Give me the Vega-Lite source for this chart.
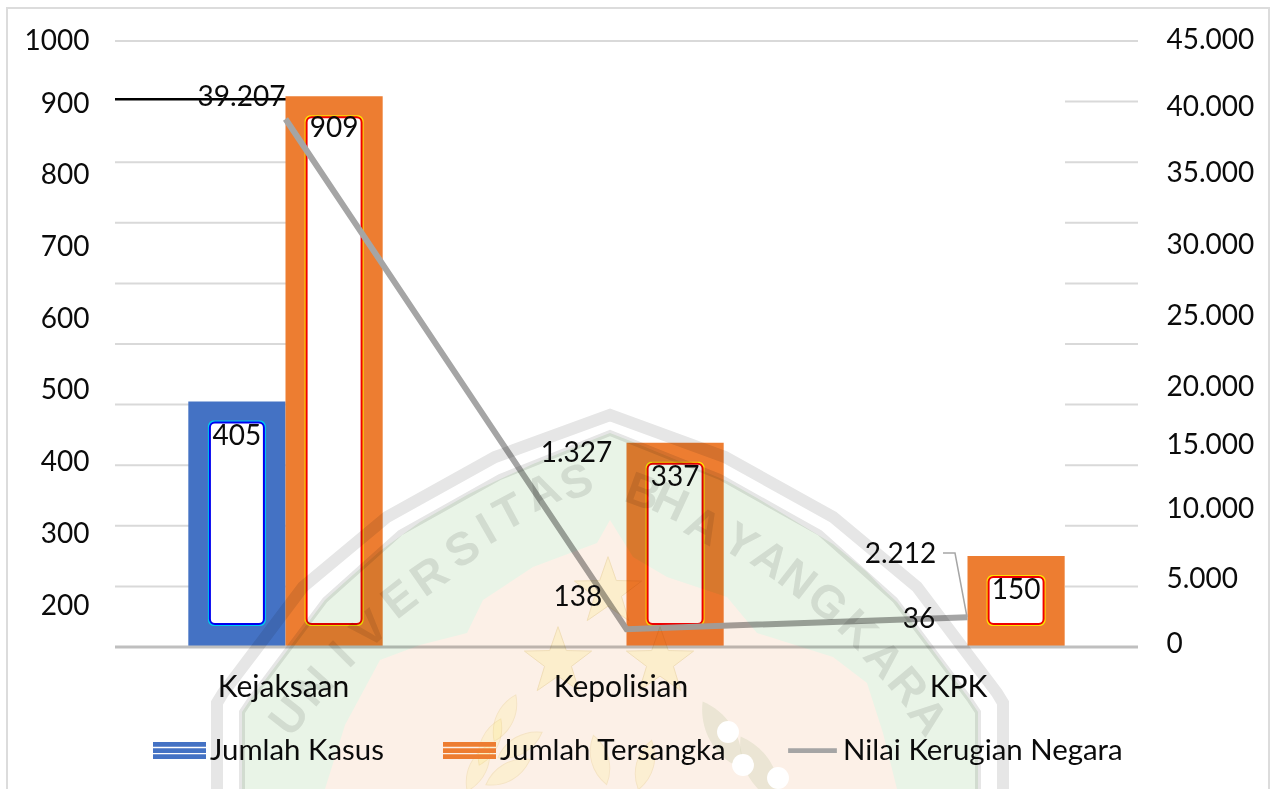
{
"$schema":"https://vega.github.io/schema/vega-lite/v6.json",
"width":1023,"height":606,"autosize":"none",
"padding":{"left":115,"top":41,"right":132,"bottom":142},
"background":"white",
"config":{"font":"Lato","view":{"stroke":null},"text":{"font":"Lato","fontSize":28,"color":"#0b0b0b"},
 "legend":{"title":null,"orient":"none","legendX":38,"legendY":683,"direction":"horizontal","columns":3,"padding":0,"symbolSize":2809,"symbolStrokeWidth":0,"symbolOpacity":1,"labelFontSize":29.4,"labelFont":"Lato","labelColor":"#0b0b0b","labelOffset":4,"labelLimit":0,"columnPadding":59}},
"datasets":{
"vals":[
{"cat":"Kejaksaan","series":"Jumlah Kasus","value":405},
{"cat":"Kejaksaan","series":"Jumlah Tersangka","value":909},
{"cat":"Kepolisian","series":"Jumlah Kasus","value":138},
{"cat":"Kepolisian","series":"Jumlah Tersangka","value":337},
{"cat":"KPK","series":"Jumlah Kasus","value":36},
{"cat":"KPK","series":"Jumlah Tersangka","value":150}],
"loss":[
{"cat":"Kejaksaan","series":"Nilai Kerugian Negara","value":39207},
{"cat":"Kepolisian","series":"Nilai Kerugian Negara","value":1327},
{"cat":"KPK","series":"Nilai Kerugian Negara","value":2212}],
"grid":[
{"value":1000,"from":115,"to":1138},
{"value":800,"from":115,"to":286},{"value":700,"from":115,"to":286},{"value":600,"from":115,"to":286},{"value":500,"from":115,"to":286},{"value":400,"from":115,"to":286},{"value":300,"from":115,"to":286},{"value":200,"from":115,"to":286},{"value":100,"from":115,"to":286},
{"value":900,"from":1065,"to":1138},{"value":800,"from":1065,"to":1138},{"value":700,"from":1065,"to":1138},{"value":600,"from":1065,"to":1138},{"value":500,"from":1065,"to":1138},{"value":400,"from":1065,"to":1138},{"value":300,"from":1065,"to":1138},{"value":200,"from":1065,"to":1138},{"value":100,"from":1065,"to":1138}],
"blackGrid":[{"value":904,"from":115,"to":286}],
"shield":[
{"u":242,"g":712,"p":789},{"u":250,"g":700,"p":789},{"u":325,"g":600,"p":789},{"u":345,"g":582,"p":725},{"u":380,"g":551,"p":660},{"u":420,"g":522,"p":645},{"u":467,"g":495,"p":633},{"u":483,"g":487,"p":600},{"u":533,"g":464,"p":567},{"u":597,"g":438,"p":543},{"u":610,"g":433,"p":520},{"u":633,"g":442,"p":557},{"u":667,"g":456,"p":577},{"u":727,"g":481,"p":597},{"u":757,"g":498,"p":633},{"u":833,"g":544,"p":657},{"u":867,"g":572,"p":683},{"u":883,"g":589,"p":733},{"u":897,"g":602,"p":789},{"u":970,"g":700,"p":789},{"u":978,"g":712,"p":789}],
"outer":[
{"o":1,"u":217,"v":795},{"o":2,"u":217,"v":703},{"o":3,"u":223,"v":693},{"o":4,"u":303,"v":587},{"o":5,"u":387,"v":517},{"o":6,"u":495,"v":457},{"o":7,"u":610,"v":415},{"o":8,"u":725,"v":457},{"o":9,"u":833,"v":517},{"o":10,"u":917,"v":587},{"o":11,"u":997,"v":693},{"o":12,"u":1003,"v":703},{"o":13,"u":1003,"v":795}],
"inner":[
{"o":1,"u":242,"v":795},{"o":2,"u":242,"v":712},{"o":3,"u":250,"v":700},{"o":4,"u":325,"v":600},{"o":5,"u":400,"v":533},{"o":6,"u":500,"v":477},{"o":7,"u":610,"v":433},{"o":8,"u":720,"v":477},{"o":9,"u":820,"v":533},{"o":10,"u":895,"v":600},{"o":11,"u":970,"v":700},{"o":12,"u":978,"v":712},{"o":13,"u":978,"v":795}],
"frame":[{"o":1,"u":7,"v":795},{"o":2,"u":7,"v":8},{"o":3,"u":1269,"v":8},{"o":4,"u":1269,"v":795}],
"leader":[{"o":1,"u":943,"v":553},{"o":2,"u":955,"v":553},{"o":3,"u":967,"v":617}],
"letters":[
{"t":"U","u":290,"v":717,"r":-52},{"t":"N","u":315,"v":687,"r":-48},{"t":"I","u":343,"v":655,"r":-45},{"t":"V","u":370,"v":630,"r":-42},{"t":"E","u":400,"v":600,"r":-38},{"t":"R","u":430,"v":577,"r":-35},{"t":"S","u":463,"v":550,"r":-32},{"t":"I","u":487,"v":530,"r":-30},{"t":"T","u":510,"v":513,"r":-28},{"t":"A","u":543,"v":493,"r":-25},{"t":"S","u":577,"v":483,"r":-20},
{"t":"B","u":643,"v":493,"r":20},{"t":"H","u":670,"v":503,"r":25},{"t":"A","u":703,"v":527,"r":28},{"t":"Y","u":740,"v":543,"r":32},{"t":"A","u":770,"v":560,"r":35},{"t":"N","u":797,"v":580,"r":38},{"t":"G","u":827,"v":603,"r":42},{"t":"K","u":857,"v":630,"r":45},{"t":"A","u":883,"v":660,"r":48},{"t":"R","u":907,"v":687,"r":50},{"t":"A","u":927,"v":717,"r":52}],
"stars":[{"u":608,"v":592},{"u":558,"v":662},{"u":660,"v":662}],
"leaves":[{"u":505,"v":718,"r":25},{"u":490,"v":742,"r":25},{"u":478,"v":768,"r":25},{"u":520,"v":745,"r":60},{"u":508,"v":772,"r":60},{"u":600,"v":760,"r":-15},{"u":645,"v":765,"r":15}],
"greenLeaves":[{"u":722,"v":735,"r":-30},{"u":760,"v":770,"r":-30}],
"cotton":[{"u":728,"v":732},{"u":743,"v":765},{"u":778,"v":778}],
"leftTicks":[{"tick":200},{"tick":900},{"tick":1000}],
"rightTicks":[{"tick":0},{"tick":45000}]
},
"resolve":{"scale":{"x":"independent","y":"independent","xOffset":"independent"},"axis":{"x":"independent","y":"independent"}},
"layer":[
{"encoding":{"x":{"field":"from","type":"quantitative","axis":null,"scale":{"domain":[115,1138],"nice":false,"zero":false}},"x2":{"field":"to"},"y":{"field":"value","type":"quantitative","axis":null,"scale":{"domain":[0,1000],"nice":false}}},
 "layer":[
  {"data":{"name":"grid"},"mark":{"type":"rule","stroke":"#d9d9d9","strokeWidth":2}},
  {"data":{"name":"blackGrid"},"mark":{"type":"rule","stroke":"#000000","strokeWidth":2.5}}
 ]},
{"data":{"name":"vals"},
 "transform":[{"filter":"datum.series=='Jumlah Tersangka'||datum.cat=='Kejaksaan'"}],
 "encoding":{
  "x":{"field":"cat","type":"nominal","axis":null,"sort":null,"scale":{"domain":["Kejaksaan","Kepolisian","KPK"],"paddingInner":0.43,"paddingOuter":0.215}},
  "xOffset":{"field":"series","type":"nominal","scale":{"domain":["Jumlah Kasus","Jumlah Tersangka"],"paddingInner":0,"paddingOuter":0}},
  "y":{"field":"value","type":"quantitative","axis":null,"stack":null,"scale":{"domain":[0,1000],"nice":false}}},
 "layer":[
  {"mark":{"type":"bar"},"encoding":{"color":{"field":"series","type":"nominal","scale":{"domain":["Jumlah Kasus","Jumlah Tersangka","Nilai Kerugian Negara"],"range":["#4472c4","#ed7d31","#a5a5a5"]}}}},
  {"transform":[{"filter":"datum.series=='Jumlah Kasus'"}],"mark":{"type":"bar","size":58,"yOffset":19,"y2Offset":-21,"fill":"#00c8f0","cornerRadius":6},"encoding":{"y2":{"datum":0}}},
  {"transform":[{"filter":"datum.series=='Jumlah Kasus'"}],"mark":{"type":"bar","size":54,"yOffset":21,"y2Offset":-23,"fill":"#ffffff","stroke":"#0000f0","strokeWidth":2,"cornerRadius":5},"encoding":{"y2":{"datum":0}}},
  {"transform":[{"filter":"datum.series=='Jumlah Tersangka'"}],"mark":{"type":"bar","size":59,"yOffset":19,"y2Offset":-21,"fill":"#ffe000","cornerRadius":6},"encoding":{"y2":{"datum":0}}},
  {"transform":[{"filter":"datum.series=='Jumlah Tersangka'"}],"mark":{"type":"bar","size":55,"yOffset":21,"y2Offset":-23,"fill":"#ffffff","stroke":"#f00000","strokeWidth":2,"cornerRadius":5},"encoding":{"y2":{"datum":0}}}
 ]},
{"data":{"name":"loss"},
 "mark":{"type":"line","strokeWidth":6},
 "encoding":{
  "x":{"field":"cat","type":"nominal","axis":null,"sort":null,"scale":{"domain":["Kejaksaan","Kepolisian","KPK"],"paddingInner":0.43,"paddingOuter":0.215}},
  "y":{"field":"value","type":"quantitative","axis":null,"scale":{"domain":[0,45000],"nice":false}},
  "color":{"field":"series","type":"nominal"}}},
{"encoding":{
  "x":{"field":"u","type":"quantitative","axis":null,"scale":{"domain":[115,1138],"nice":false,"zero":false}},
  "y":{"field":"v","type":"quantitative","axis":null,"scale":{"domain":[647,41],"nice":false,"zero":false}}},
 "layer":[
  {"data":{"values":[{"u":115,"v":647},{"u":1138,"v":647}]},"mark":{"type":"line","stroke":"#bfbfbf","strokeWidth":3}},
  {"data":{"name":"frame"},"mark":{"type":"line","stroke":"#dcdcdc","strokeWidth":2,"clip":false},"encoding":{"order":{"field":"o"}}},
  {"data":{"name":"leader"},"mark":{"type":"line","stroke":"#a6a6a6","strokeWidth":1.5},"encoding":{"order":{"field":"o"}}},
  {"data":{"name":"shield"},"mark":{"type":"area","fill":"#e9f4e7","blend":"multiply"},"encoding":{"y":{"field":"g","type":"quantitative"},"y2":{"field":"p"}}},
  {"data":{"name":"shield"},"mark":{"type":"area","fill":"#fcf0e7","blend":"multiply"},"encoding":{"y":{"field":"p","type":"quantitative"},"y2":{"datum":800}}},
  {"data":{"name":"outer"},"mark":{"type":"line","stroke":"#e6e6e6","strokeWidth":12,"strokeJoin":"miter","blend":"multiply"},"encoding":{"order":{"field":"o"}}},
  {"data":{"name":"inner"},"mark":{"type":"line","stroke":"#e6e6e6","strokeWidth":6,"strokeJoin":"miter","blend":"multiply"},"encoding":{"order":{"field":"o"}}},
  {"data":{"name":"letters"},"mark":{"type":"text","font":"Liberation Sans","fontWeight":"bold","fontSize":46,"baseline":"middle","fill":"#e6e6e6","blend":"multiply"},"encoding":{"text":{"field":"t"},"angle":{"field":"r","type":"quantitative","scale":null}}},
  {"data":{"name":"stars"},"mark":{"type":"point","filled":true,"shape":"M0,-1L.235,-.324L.951,-.309L.38,.124L.588,.809L0,.4L-.588,.809L-.38,.124L-.951,-.309L-.235,-.324Z","size":5000,"fill":"#fffde2","stroke":"#f3eccb","strokeWidth":1,"opacity":1,"blend":"multiply"}},
  {"data":{"name":"leaves"},"mark":{"type":"point","filled":true,"shape":"M0,-1C.45,-.4 .45,.4 0,1C-.45,.4 -.45,-.4 0,-1Z","size":2600,"fill":"#fffee8","stroke":"#f8f3da","strokeWidth":1,"opacity":1,"blend":"multiply"},"encoding":{"angle":{"field":"r","type":"quantitative","scale":null}}},
  {"data":{"name":"greenLeaves"},"mark":{"type":"point","filled":true,"shape":"M0,-1C.45,-.4 .45,.4 0,1C-.45,.4 -.45,-.4 0,-1Z","size":6000,"fill":"#eef4ea","opacity":1,"blend":"multiply"},"encoding":{"angle":{"field":"r","type":"quantitative","scale":null}}},
  {"data":{"name":"cotton"},"mark":{"type":"circle","size":480,"fill":"#ffffff","opacity":1}}
 ]},
{"data":{"name":"vals"},
 "encoding":{
  "x":{"field":"cat","type":"nominal","axis":null,"sort":null,"scale":{"domain":["Kejaksaan","Kepolisian","KPK"],"paddingInner":0.43,"paddingOuter":0.215}},
  "xOffset":{"field":"series","type":"nominal","scale":{"type":"band","domain":["Jumlah Kasus","Jumlah Tersangka"],"paddingInner":0,"paddingOuter":0}},
  "y":{"field":"value","type":"quantitative","axis":null,"stack":null,"scale":{"domain":[0,1000],"nice":false}},
  "text":{"field":"value","type":"quantitative"}},
 "layer":[
  {"transform":[{"filter":"datum.value!=36&&datum.value!=909"}],"mark":{"type":"text","dy":35,"baseline":"middle"}},
  {"transform":[{"filter":"datum.value==909"}],"mark":{"type":"text","dy":33,"baseline":"middle"}},
  {"transform":[{"filter":"datum.value==36"}],"mark":{"type":"text","dy":-5,"baseline":"middle"}}
 ]},
{"data":{"name":"loss"},
 "encoding":{
  "x":{"field":"cat","type":"nominal","axis":null,"sort":null,"scale":{"domain":["Kejaksaan","Kepolisian","KPK"],"paddingInner":0.43,"paddingOuter":0.215}},
  "y":{"field":"value","type":"quantitative","axis":null,"scale":{"domain":[0,45000],"nice":false}}},
 "transform":[{"calculate":"replace(format(datum.value,','),',','.')","as":"shown"}],
 "layer":[
  {"transform":[{"filter":"datum.value==39207"}],"mark":{"type":"text","dx":-44,"dy":-21,"baseline":"middle"},"encoding":{"text":{"field":"shown"}}},
  {"transform":[{"filter":"datum.value==1327"}],"mark":{"type":"text","dx":-50,"dy":-175,"baseline":"middle"},"encoding":{"text":{"field":"shown"}}},
  {"transform":[{"filter":"datum.value==2212"}],"mark":{"type":"text","dx":-67,"dy":-62,"baseline":"middle"},"encoding":{"text":{"field":"shown"}}}
 ]},
{"data":{"name":"leftTicks"},
 "mark":{"type":"point","opacity":0},
 "encoding":{"y":{"field":"tick","type":"quantitative",
  "scale":{"domain":[200,900,1000],"range":[565,63,0],"nice":false,"zero":false},
  "axis":{"orient":"left","title":null,"format":"d","values":[200,300,400,500,600,700,800,900,1000],"grid":false,"domain":false,"ticks":false,"labelPadding":26,"labelFontSize":28,"labelFont":"Lato","labelColor":"#0b0b0b","labelOverlap":false,"labelBound":false,"labelFlush":false}}}},
{"data":{"name":"rightTicks"},
 "mark":{"type":"point","opacity":0},
 "encoding":{"y":{"field":"tick","type":"quantitative",
  "scale":{"domain":[0,5000,10000,15000,20000,25000,30000,35000,40000,45000],"range":[603,538,468,404,346,275,204,132,66,-1],"nice":false,"zero":false},
  "axis":{"orient":"right","title":null,"values":[0,5000,10000,15000,20000,25000,30000,35000,40000,45000],"grid":false,"domain":false,"ticks":false,"labelPadding":28,"labelFontSize":28,"labelFont":"Lato","labelColor":"#0b0b0b","labelOverlap":false,"labelBound":false,"labelFlush":false,"labelExpr":"replace(format(datum.value,','),',','.')"}}}},
{"data":{"name":"vals"},
 "mark":{"type":"point","opacity":0},
 "encoding":{"x":{"field":"cat","type":"ordinal","sort":null,
  "scale":{"type":"point","domain":["Kejaksaan","Kepolisian","KPK"],"range":[168,843],"padding":0},
  "axis":{"orient":"bottom","title":null,"domain":false,"ticks":false,"grid":false,"labelAngle":0,"labelPadding":25,"labelFontSize":30,"labelFont":"Lato","labelColor":"#0b0b0b"}}}},
{"data":{"values":[{"series":"Jumlah Kasus"},{"series":"Jumlah Tersangka"},{"series":"Nilai Kerugian Negara"}]},
 "mark":{"type":"point","filled":true,"opacity":0},
 "encoding":{
  "color":{"field":"series","type":"nominal"},
  "shape":{"field":"series","type":"nominal","scale":{"domain":["Jumlah Kasus","Jumlah Tersangka","Nilai Kerugian Negara"],"range":["M-1,-.32H1V-.14H-1Z M-1,-.09H1V.09H-1Z M-1,.14H1V.32H-1Z","M-1,-.32H1V-.14H-1Z M-1,-.09H1V.09H-1Z M-1,.14H1V.32H-1Z","M-.92,-.09H.92V.09H-.92Z"]}}}}
]}
